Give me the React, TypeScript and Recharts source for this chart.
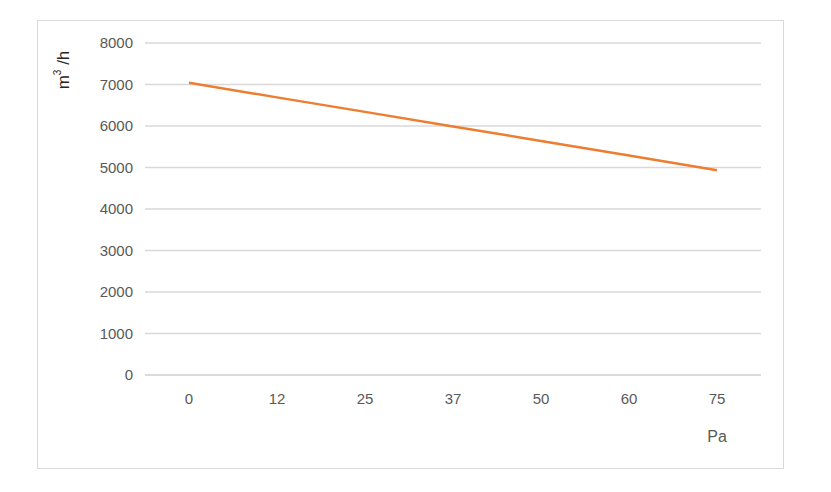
import React from 'react';
import { CartesianGrid, Line, LineChart, XAxis, YAxis } from 'recharts';

const pressures = ['0', '12', '25', '37', '50', '60', '75'];
const airflow = [7040, 6690, 6340, 5990, 5640, 5290, 4935];
const yTicks = [0, 1000, 2000, 3000, 4000, 5000, 6000, 7000, 8000];

const data = pressures.map((p, i) => ({ p, flow: airflow[i] }));

const font = '"Liberation Sans", Arial, sans-serif';
const tickStyle = { fill: '#595959', fontSize: 15, fontFamily: font };

function FlowLabel({ viewBox }: any) {
  const x = viewBox.x + 20;
  const y = viewBox.y + 27;
  return (
    <text
      transform={`translate(${x},${y}) rotate(-90)`}
      textAnchor="middle"
      dominantBaseline="middle"
      fill="#262626"
      fontSize={17}
      fontFamily={font}
    >
      m<tspan dy={-7} fontSize={10}>3</tspan>
      <tspan dy={7}> /h</tspan>
    </text>
  );
}

function PressureLabel({ viewBox }: any) {
  return (
    <text
      x={viewBox.x + viewBox.width - 44}
      y={viewBox.y + 67}
      textAnchor="middle"
      fill="#595959"
      fontSize={16}
      fontFamily={font}
    >
      Pa
    </text>
  );
}

export default function App() {
  return (
    <div style={{ position: 'absolute', left: 0, top: 0, width: 831, height: 492, background: '#fff' }}>
      <div
        style={{
          position: 'absolute',
          left: 37,
          top: 20,
          width: 745,
          height: 447,
          border: '1px solid #d9d9d9',
        }}
      />
      <LineChart
        width={831}
        height={492}
        data={data}
        margin={{ top: 43, right: 70, bottom: 87, left: 45 }}
      >
        <CartesianGrid vertical={false} stroke="#d9d9d9" strokeWidth={1.3} />
        <XAxis
          dataKey="p"
          height={30}
          padding={{ left: 44, right: 44 }}
          tick={tickStyle}
          tickLine={false}
          axisLine={{ stroke: '#d9d9d9', strokeWidth: 1.3 }}
          tickMargin={12}
          label={<PressureLabel />}
        />
        <YAxis
          width={100}
          domain={[0, 8000]}
          ticks={yTicks}
          tick={tickStyle}
          tickLine={false}
          axisLine={false}
          tickMargin={6}
          label={<FlowLabel />}
        />
        <Line
          dataKey="flow"
          stroke="#ED7D31"
          strokeWidth={2.5}
          dot={false}
          isAnimationActive={false}
        />
      </LineChart>
    </div>
  );
}
